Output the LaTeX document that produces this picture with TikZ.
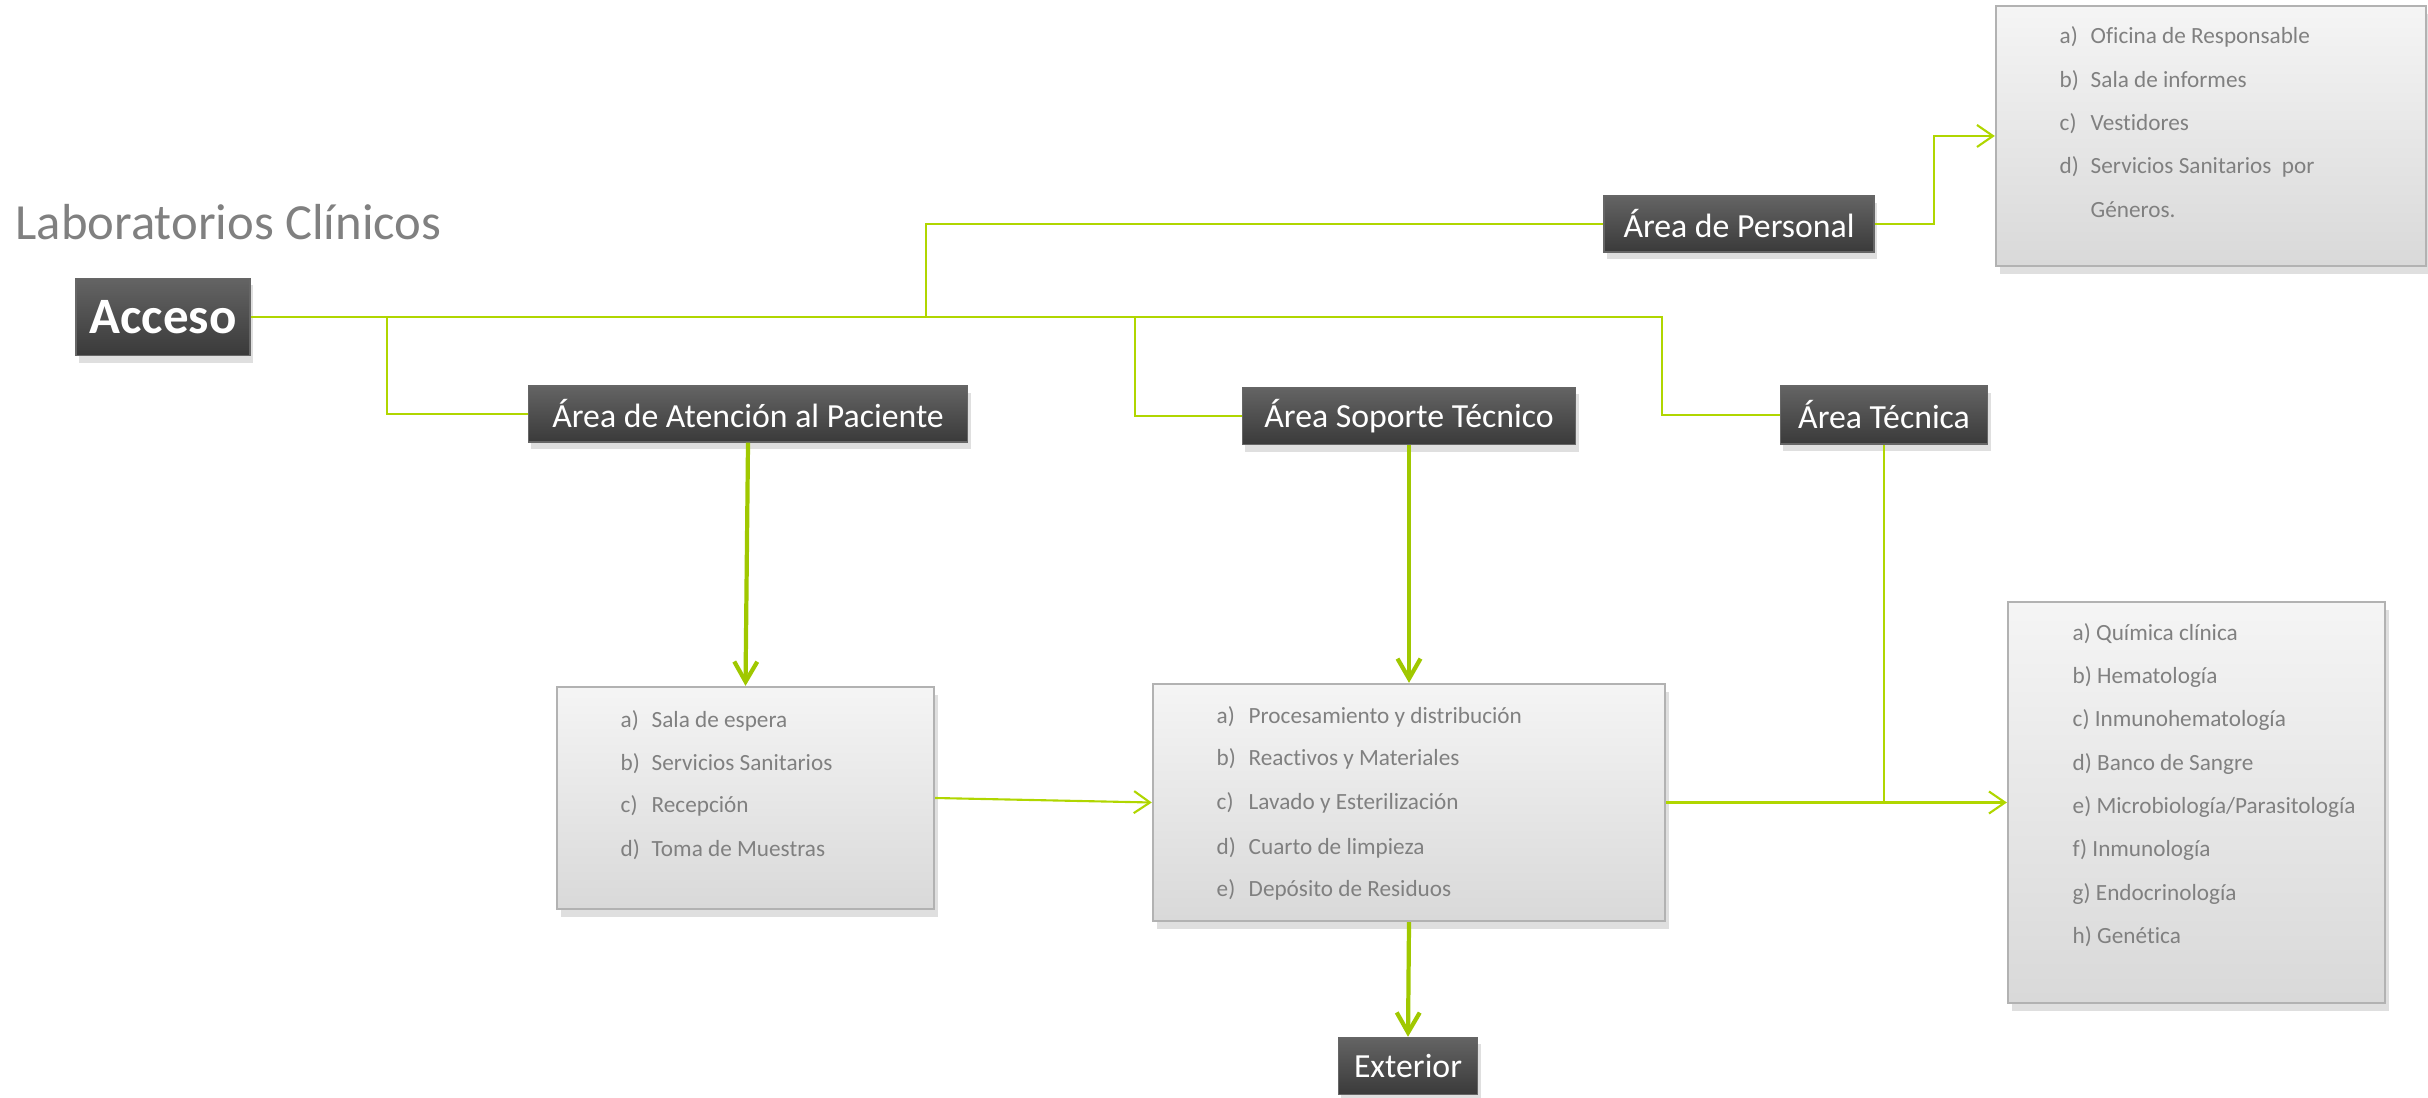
\documentclass[tikz,border=0pt]{standalone}
\usepackage{fontspec}
\setmainfont{Carlito}[Ligatures=CommonOff]
\usetikzlibrary{calc, positioning}
\usetikzlibrary{arrows.meta}
\usetikzlibrary{shadows}

\definecolor{lineagreen}{RGB}{176,214,0}
\definecolor{flowgreen}{RGB}{160,200,0}
\definecolor{textgray}{RGB}{128,128,128}
\definecolor{boxtop}{RGB}{100,100,100}
\definecolor{boxbottom}{RGB}{58,58,58}

\begin{document}
\begin{tikzpicture}[x=0.01cm,y=-0.01cm,
  area/.style={draw=black!60, line width=0.4pt, top color=boxtop, bottom color=boxbottom,
    text=white, inner sep=0pt, font=\fontsize{9.6}{11}\selectfont,
    drop shadow={shadow xshift=0.3mm, shadow yshift=-0.7mm, opacity=0.25}},
  lista/.style={draw=black!30, line width=0.6pt, top color=black!4, bottom color=black!15,
    inner sep=0pt, drop shadow={shadow xshift=0.4mm, shadow yshift=-0.8mm, opacity=0.25}},
  item/.style={anchor=base west, inner sep=0pt, text=textgray,
    font=\fontsize{6.6}{8}\selectfont},
  link/.style={draw=lineagreen, line width=0.6pt},
  barb/.style={-{Straight Barb[length=1.6mm, width=2.2mm]}},
  flow/.style={draw=flowgreen, line width=1.2pt, -{Straight Barb[length=2mm, width=2.3mm]}}]
\useasboundingbox (0,0) rectangle (2428,1098);

\node[anchor=base west, inner sep=0pt, text=textgray, font=\fontsize{14.4}{17}\selectfont]
  (titulo) at (15,240) {Laboratorios Clínicos};

% encabezados
\node[area, minimum width=1.74cm, minimum height=0.77cm, font=\fontsize{14.5}{17}\selectfont\bfseries]
  (acceso) at (163,317) {Acceso};
\node[area, minimum width=4.39cm, minimum height=0.56cm] (atencion) at (748,414) {Área de Atención al Paciente};
\node[area, minimum width=3.33cm, minimum height=0.57cm] (soporte) at (1409,416) {Área Soporte Técnico};
\node[area, minimum width=2.07cm, minimum height=0.58cm] (tecnica) at (1884,415) {Área Técnica};
\node[area, minimum width=2.70cm, minimum height=0.56cm] (personal) at (1739,224) {Área de Personal};
\node[area, minimum width=1.39cm, minimum height=0.57cm] (exterior) at (1408,1066) {Exterior};

% listas
\node[lista, minimum width=4.30cm, minimum height=2.60cm] (lpersonal) at (2211,136) {};
\node[lista, minimum width=3.77cm, minimum height=2.22cm] (latencion) at (745.5,798) {};
\node[lista, minimum width=5.12cm, minimum height=2.37cm] (lsoporte) at (1409,802.5) {};
\node[lista, minimum width=3.77cm, minimum height=4.01cm] (ltecnica) at (2196.5,802.5) {};

\foreach \l/\t/\y in {a)/Oficina de Responsable/44, b)/Sala de informes/88,
    c)/Vestidores/131, d)/Servicios Sanitarios\ \ por/174}{
  \node[item] at (2059,\y) {\l};
  \node[item] at (2090,\y) {\t};
}
\node[item] at (2090,218) {Géneros.};

\foreach \l/\t/\y in {a)/Sala de espera/728, b)/Servicios Sanitarios/771,
    c)/Recepción/813, d)/Toma de Muestras/856}{
  \node[item] at (620,\y) {\l};
  \node[item] at (651,\y) {\t};
}

\foreach \l/\t/\y in {a)/Procesamiento y distribución/724, b)/Reactivos y Materiales/766,
    c)/Lavado y Esterilización/810, d)/Cuarto de limpieza/854, e)/Depósito de Residuos/896}{
  \node[item] at (1216,\y) {\l};
  \node[item] at (1248,\y) {\t};
}

\foreach \t [count=\i] in {a) Química clínica, b) Hematología, c) Inmunohematología,
    d) Banco de Sangre, e) Microbiología/Parasitología, f) Inmunología,
    g) Endocrinología, h) Genética}{
  \node[item] at (2072,{597+43.3*\i}) {\t};
}

% conexiones
\coordinate (j1) at (387,317);
\coordinate (j2) at (926,317);
\coordinate (j3) at (1135,317);
\coordinate (j4) at (1662,317);
\coordinate (p1) at (1934,224);

\draw[link] (acceso.east) -- (j4) |- (tecnica.west);
\draw[link] (j1) |- (atencion.west);
\draw[link] (j2) |- (personal.west);
\draw[link] (j3) |- (soporte.west);
\draw[link, barb] (personal.east) -- (p1) |- (lpersonal.west);

\draw[flow] (atencion.south) -- (latencion.north);
\draw[flow] (soporte.south) -- (lsoporte.north);
\draw[flow] (lsoporte.south) -- (exterior.north);

\draw[link, barb] (latencion.east) -- (lsoporte.west);
\draw[link, barb] (lsoporte.east) -- (ltecnica.west);
\draw[link] (tecnica.south) -- (tecnica.south |- lsoporte.east);
\end{tikzpicture}
\end{document}
